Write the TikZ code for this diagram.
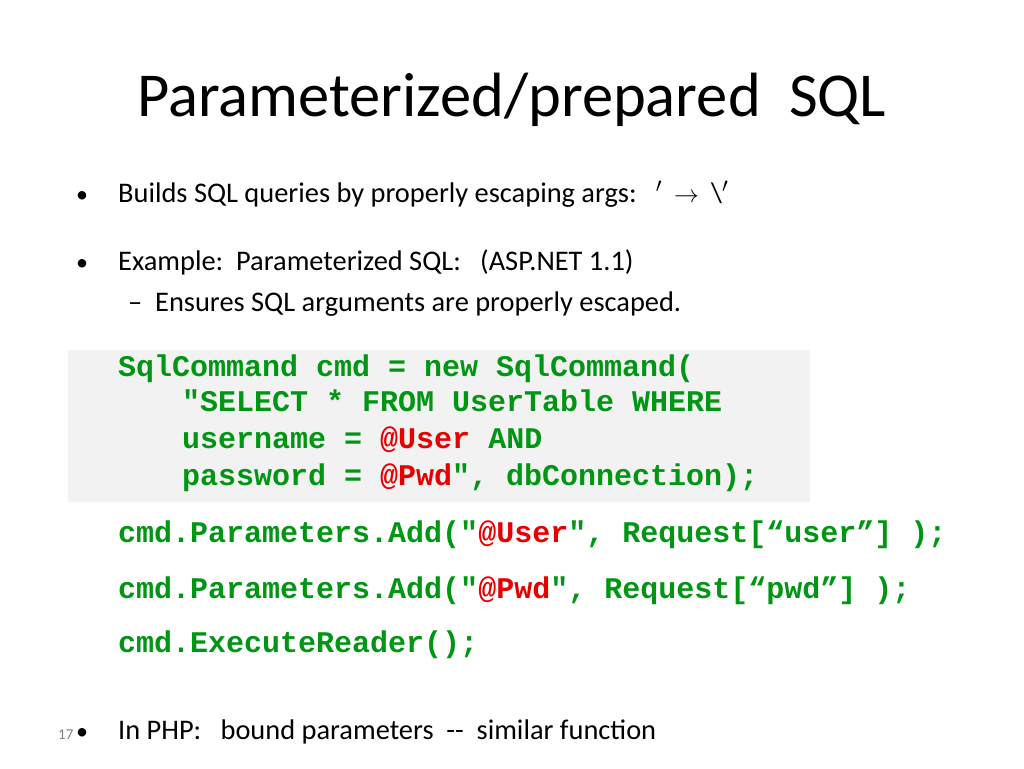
\documentclass[tikz,border=0pt]{standalone}
\usepackage{fontspec}
\setmainfont{Carlito}
\setmonofont{Liberation Mono}
\definecolor{codegreen}{RGB}{0,150,20}
\definecolor{codered}{RGB}{230,0,0}
\definecolor{boxgray}{RGB}{242,242,242}
\newcommand{\hl}[1]{\textcolor{codered}{#1}}
\newcommand{\ind}{\hspace*{64pt}}
\tikzset{
  txt/.style={anchor=base west,inner sep=0pt,font=\fontsize{28.4}{32}\selectfont},
  code/.style={anchor=base west,inner sep=0pt,text=codegreen,font=\fontsize{30}{34}\selectfont\ttfamily\bfseries},
  bul/.style={anchor=base west,inner sep=0pt,font=\fontsize{24}{28}\selectfont}
}
\begin{document}
\begin{tikzpicture}[x=1pt,y=-1pt]
\useasboundingbox (0,0) rectangle (1024,768);
\fill[boxgray] (68,350) rectangle (810,502);
\node[anchor=base west,inner sep=0pt,font=\fontsize{62.5}{70}\selectfont] (title) at (137,116) {Parameterized/prepared\ \ SQL};
\node[bul] (b1) at (76,202) {•};
\node[txt] (t1) at (118,202) {Builds SQL queries by properly escaping args:\ \ \ $'$\hspace{12pt}$\rightarrow$\hspace{12pt}\textbackslash$'$};
\node[bul] (b2) at (76,270) {•};
\node[txt] (t2) at (118,270) {Example:\ \ Parameterized SQL:\ \ \ (ASP.NET 1.1)};
\node[txt] (t3) at (128,311) {–\ \ Ensures SQL arguments are properly escaped.};
\node[code] (c1) at (118,376) {SqlCommand cmd = new SqlCommand(};
\node[code] (c2) at (118,411) {\ind"SELECT * FROM UserTable WHERE};
\node[code] (c3) at (118,448) {\ind username = \hl{@User} AND};
\node[code] (c4) at (118,485) {\ind password = \hl{@Pwd}", dbConnection);};
\node[code] (c5) at (118,542) {cmd.Parameters.Add("\hl{@User}", Request[“user”] );};
\node[code] (c6) at (118,598) {cmd.Parameters.Add("\hl{@Pwd}", Request[“pwd”] );};
\node[code] (c7) at (118,652) {cmd.ExecuteReader();};
\node[anchor=base west,inner sep=0pt,font=\fontsize{15}{17}\selectfont,text=gray] (num) at (58,739) {17};
\node[bul] (b3) at (76,739) {•};
\node[txt] (t4) at (118,739) {In PHP:\ \ \ bound parameters\ \ {-}{-}\ \ similar function};
\end{tikzpicture}
\end{document}
